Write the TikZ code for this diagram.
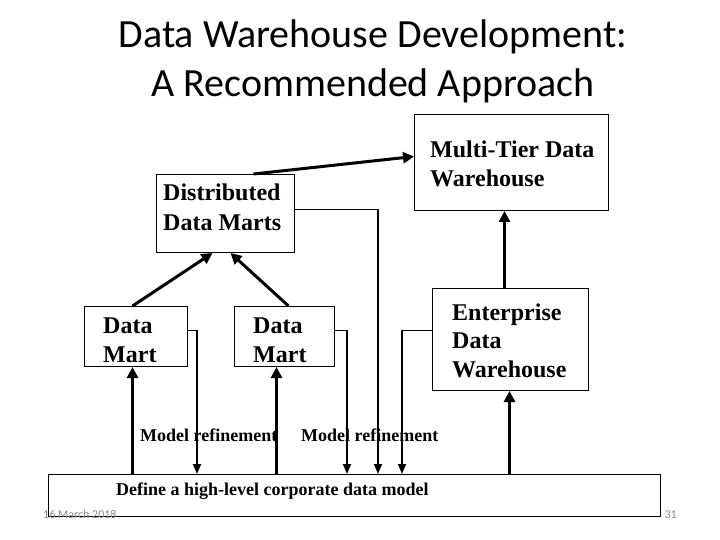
\documentclass[tikz,border=0pt]{standalone}
\usepackage{fontspec}
\setmainfont{Liberation Serif}
\newfontfamily\titlefont{Carlito}
\usetikzlibrary{arrows.meta}
\tikzset{
 box/.style={draw, line width=1pt, rectangle, inner sep=0pt, anchor=north west},
 lbl/.style={inner sep=0pt, anchor=base west, align=left, font=\bfseries\fontsize{24}{29}\selectfont},
 small/.style={inner sep=0pt, anchor=base west, font=\bfseries\fontsize{18}{22}\selectfont},
 bigarrow/.style={line width=3pt, -{Triangle[length=11pt,width=11pt]}},
 thinarrow/.style={line width=1.7pt, -{Triangle[length=10pt,width=8pt]}},
 hline/.style={line width=1pt},
 foot/.style={inner sep=0pt, font=\titlefont\fontsize{12}{14}\selectfont, text=black!45},
}
\begin{document}
\begin{tikzpicture}[x=1pt,y=-1pt]
\path[use as bounding box] (0,0) rectangle (720,540);
% (multi-line nodes: base anchor = baseline of last line)
\node[font=\titlefont\fontsize{40}{49}\selectfont, align=center, anchor=base, inner sep=0pt] (title) at (373,97) {Data Warehouse Development:\\A Recommended Approach};

% boxes
\node[box, minimum width=194pt, minimum height=96pt] (mt) at (414,114) {};
\node[box, minimum width=138pt, minimum height=78pt] (ddm) at (156,174) {};
\node[box, minimum width=103pt, minimum height=60pt] (dmL) at (84,306) {};
\node[box, minimum width=100pt, minimum height=60pt] (dmR) at (234,306) {};
\node[box, minimum width=156pt, minimum height=102pt] (edw) at (432,288) {};
\node[box, minimum width=612pt, minimum height=42pt] (def) at (48,474) {};

% texts
\node[lbl] (mtT) at (430,187) {Multi-Tier Data\\Warehouse};
\node[lbl] (ddmT) at (163,230) {Distributed\\Data Marts};
\node[lbl] (dmLT) at (103,362) {Data\\Mart};
\node[lbl] (dmRT) at (253,362) {Data\\Mart};
\node[lbl, font=\bfseries\fontsize{24}{28.5}\selectfont] (edwT) at (452,377) {Enterprise\\Data\\Warehouse};
\node[small] (defT) at (116,495) {Define a high-level corporate data model};
\node[small] (mr1) at (140,441) {Model refinement};
\node[small] (mr2) at (301,441) {Model refinement};
\node[foot, anchor=base west] (date) at (43,518) {16 March 2018};
\node[foot, anchor=base east] (num) at (677,518) {31};

% upward / main arrows
\draw[bigarrow] ([xshift=28pt]ddm.north) -- ([yshift=6pt]mt.west);
\draw[bigarrow] ([xshift=-3.5pt]dmL.north) -- ([xshift=-13pt]ddm.south);
\draw[bigarrow] ([xshift=4pt]dmR.north) -- ([xshift=5pt]ddm.south);
\coordinate (e1) at ([xshift=-6pt]edw.north);
\draw[bigarrow] (e1) -- (e1 |- mt.south);
\coordinate (u1) at ([xshift=-3.5pt]dmL.south);
\draw[bigarrow] (u1 |- def.north) -- (u1);
\coordinate (u2) at ([xshift=-8pt]dmR.south);
\draw[bigarrow] (u2 |- def.north) -- (u2);
\coordinate (u3) at ([xshift=-1pt]edw.south);
\draw[bigarrow] (u3 |- def.north) -- (u3);

% model refinement feedback
\coordinate (k1) at (197,330);
\coordinate (k2) at (347,330);
\coordinate (k3) at (378,210);
\coordinate (k4) at (402,330);
\draw[hline] (dmL.east |- k1) -- (k1);
\draw[thinarrow] ([yshift=0.5pt]k1) -- (k1 |- def.north);
\draw[hline] (dmR.east |- k2) -- (k2);
\draw[thinarrow] ([yshift=0.5pt]k2) -- (k2 |- def.north);
\draw[hline] (ddm.east |- k3) -- (k3);
\draw[thinarrow] ([yshift=0.5pt]k3) -- (k3 |- def.north);
\draw[hline] (edw.west |- k4) -- (k4);
\draw[thinarrow] ([yshift=0.5pt]k4) -- (k4 |- def.north);
\end{tikzpicture}
\end{document}
